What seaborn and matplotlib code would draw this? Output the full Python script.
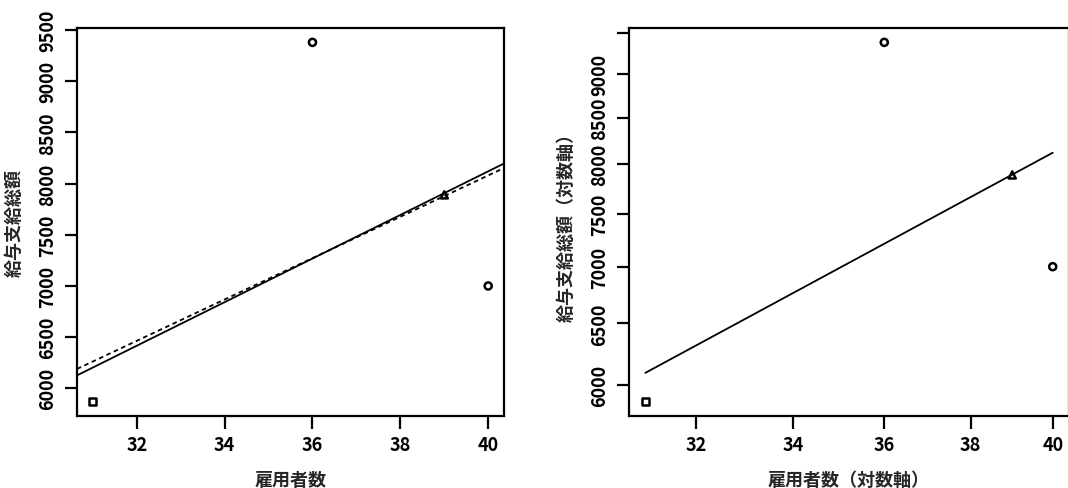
import numpy as np
import pandas as pd
import matplotlib
matplotlib.use("Agg")
import matplotlib.pyplot as plt
import seaborn as sns
from matplotlib.ticker import FixedLocator, FixedFormatter, NullLocator

# ---- data ----
employees = [31, 36, 39, 40]                 # 雇用者数
payroll = [5870, 9380, 7890, 7000]           # 給与支給総額
point_marker = ["s", "o", "^", "o"]

# linear fits (left panel): y = intercept + slope * x
fit_solid = (-400.0, 213.0)
fit_dashed = (0.0, 202.0)
# log-log fit (right panel): ln y = a + b ln x
fit_log = (4.845, 1.127)

x_ticks = [32, 34, 36, 38, 40]
y_ticks_left = [6000, 6500, 7000, 7500, 8000, 8500, 9000, 9500]
y_ticks_right = [6000, 6500, 7000, 7500, 8000, 8500, 9000, 9500]
y_labels_right = ["6000", "6500", "7000", "7500", "8000", "8500", "9000", ""]

label_x_left = "雇用者数"
label_y_left = "給与支給総額"
label_x_right = "雇用者数（対数軸）"
label_y_right = "給与支給総額（対数軸）"

sns.set_theme(style="ticks")
FONT = ["Noto Sans CJK JP", "DejaVu Sans"]
plt.rcParams["font.family"] = FONT
plt.rcParams["axes.edgecolor"] = "black"
plt.rcParams["axes.linewidth"] = 1.6
plt.rcParams["xtick.color"] = "black"
plt.rcParams["ytick.color"] = "black"

df = pd.DataFrame({"x": employees, "y": payroll, "m": point_marker})

W, H = 1068, 489
fig = plt.figure(figsize=(W / 100, H / 100), dpi=100)
ax1 = fig.add_axes([77 / W, (H - 417) / H, 427 / W, 388 / H])
ax2 = fig.add_axes([629 / W, (H - 417) / H, 440 / W, 388 / H])


def r_lim(vals, log=False):
    v = np.array(vals, dtype=float)
    if log:
        v = np.log(v)
    lo, hi = v.min(), v.max()
    pad = 0.04 * (hi - lo)
    lo, hi = lo - pad, hi + pad
    if log:
        return float(np.exp(lo)), float(np.exp(hi))
    return float(lo), float(hi)


def draw_points(ax):
    for mk in df["m"].unique():
        sub = df[df["m"] == mk]
        sns.scatterplot(data=sub, x="x", y="y", marker=mk, s=26,
                        facecolor="none", edgecolor="black", linewidth=1.8,
                        ax=ax, legend=False, zorder=3)


def style_axes(ax, xlabel, ylabel):
    for side in ["top", "right", "left", "bottom"]:
        ax.spines[side].set_visible(True)
        ax.spines[side].set_linewidth(1.6)
    ax.tick_params(axis="both", which="major", direction="out", length=9,
                   width=1.6, labelsize=13, pad=5)
    ax.tick_params(axis="both", which="minor", length=0)
    for lab in ax.get_yticklabels():
        lab.set_rotation(90)
        lab.set_va("center")
        lab.set_family(FONT)
        lab.set_weight("bold")
    for lab in ax.get_xticklabels():
        lab.set_family(FONT)
        lab.set_weight("bold")
    ax.set_xlabel(xlabel, fontsize=13, labelpad=11, family=FONT, weight="bold")
    ax.set_ylabel(ylabel, fontsize=13, labelpad=11, family=FONT, weight="bold")


# ---- left panel: linear axes ----
xl = r_lim(employees)
yl = r_lim(payroll)
xs = np.linspace(xl[0], xl[1], 50)
line_df = pd.DataFrame({
    "x": np.concatenate([xs, xs]),
    "y": np.concatenate([fit_solid[0] + fit_solid[1] * xs,
                         fit_dashed[0] + fit_dashed[1] * xs]),
    "kind": ["solid"] * len(xs) + ["dashed"] * len(xs),
})
sns.lineplot(data=line_df[line_df["kind"] == "solid"], x="x", y="y",
             color="black", linewidth=1.3, ax=ax1, legend=False)
sns.lineplot(data=line_df[line_df["kind"] == "dashed"], x="x", y="y",
             color="black", linewidth=1.3, linestyle=(0, (2.5, 2)), ax=ax1,
             legend=False)
draw_points(ax1)
ax1.set_xlim(*xl)
ax1.set_ylim(*yl)
ax1.xaxis.set_major_locator(FixedLocator(x_ticks))
ax1.xaxis.set_major_formatter(FixedFormatter([str(t) for t in x_ticks]))
ax1.yaxis.set_major_locator(FixedLocator(y_ticks_left))
ax1.yaxis.set_major_formatter(FixedFormatter([str(t) for t in y_ticks_left]))
style_axes(ax1, label_x_left, label_y_left)

# ---- right panel: log axes ----
ax2.set_xscale("log")
ax2.set_yscale("log")
xr = r_lim(employees, log=True)
yr = r_lim(payroll, log=True)
xs2 = np.exp(np.linspace(np.log(min(employees)), np.log(max(employees)), 50))
log_df = pd.DataFrame({"x": xs2, "y": np.exp(fit_log[0] + fit_log[1] * np.log(xs2))})
sns.lineplot(data=log_df, x="x", y="y", color="black", linewidth=1.3, ax=ax2,
             legend=False)
draw_points(ax2)
ax2.set_xlim(*xr)
ax2.set_ylim(*yr)
ax2.xaxis.set_major_locator(FixedLocator(x_ticks))
ax2.xaxis.set_major_formatter(FixedFormatter([str(t) for t in x_ticks]))
ax2.xaxis.set_minor_locator(NullLocator())
ax2.yaxis.set_major_locator(FixedLocator(y_ticks_right))
ax2.yaxis.set_major_formatter(FixedFormatter(y_labels_right))
ax2.yaxis.set_minor_locator(NullLocator())
style_axes(ax2, label_x_right, label_y_right)

fig.savefig("out.png", dpi=100)
